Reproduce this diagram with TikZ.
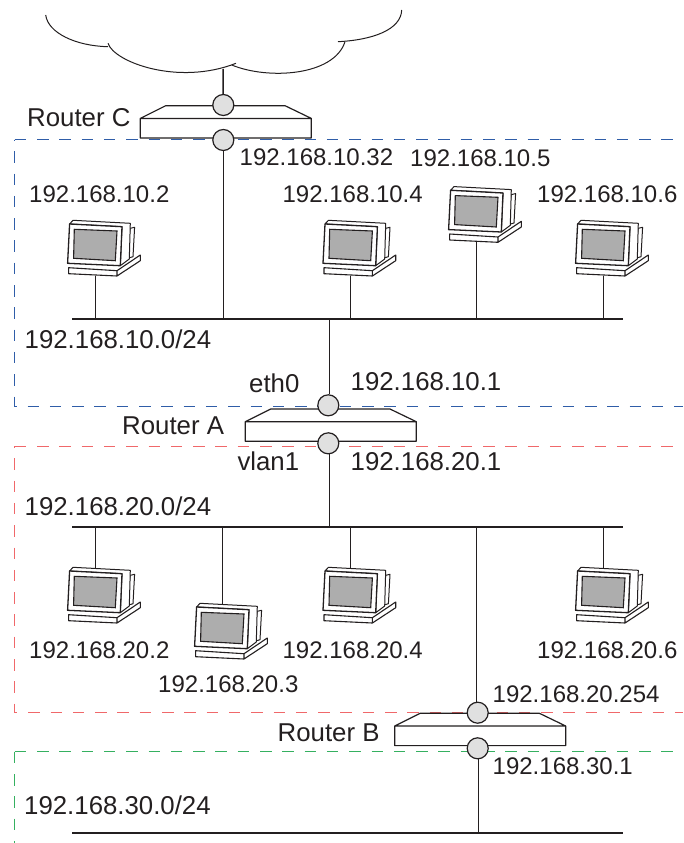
\documentclass[tikz,border=0pt]{standalone}
\usepackage{fontspec}
\setmainfont{Liberation Sans}
\usepackage{tikz}
\usetikzlibrary{positioning}

\definecolor{netblue}{HTML}{2F5DA8}
\definecolor{netred}{HTML}{F0686A}
\definecolor{netgreen}{HTML}{35B060}
\definecolor{inkline}{HTML}{231F20}

\tikzset{
	lan/.style={draw=inkline, line width=1.7pt},
	wire/.style={draw=inkline, line width=1.5pt},
	zone/.style={line width=1pt, dash pattern=on 11.5pt off 10.8pt},
	cloudline/.style={draw=inkline, line width=1pt},
	port/.style={circle, draw=inkline, line width=1.2pt, fill=black!12, minimum size=21pt, inner sep=0pt},
	addr/.style={inner sep=0pt, text height=17pt, text depth=0pt, text=inkline, font=\fontsize{24}{28}\selectfont},
	addrbig/.style={addr, font=\fontsize{25.8}{30}\selectfont},
	pcbox/.pic={
		\coordinate (-foot) at (0,0);
		\coordinate (-head) at (0,-54.5);
		\draw[inkline, line width=1.1pt, fill=white, line join=round]
			(-26.7,-8.3) -- (21.7,-5.3) -- (45,-21) -- (45,-15.3) -- (21.7,0) -- (-26.7,-2.3) -- cycle
			(21.7,-5.3) -- (21.7,0);
		\draw[inkline, line width=1pt, fill=white, line join=round]
			(35,-47.7) -- (39.3,-48.7) -- (37.7,-19.3) -- (30,-17) -- cycle;
		\draw[inkline, line width=1pt, fill=white, line join=round]
			(-25.7,-52) -- (-22.3,-55.7) -- (35,-52.7) -- (34,-17) -- (25,-10.3) -- (26.7,-49.3) -- cycle;
		\draw[inkline, line width=1.3pt, fill=white, line join=round]
			(-25.7,-52) -- (26.7,-49.3) -- (25,-10.3) -- (-27.7,-12.7) -- cycle;
		\draw[inkline, line width=1.1pt, fill=black!32]
			(-21,-46.7) -- (21.7,-45) -- (20,-15.3) -- (-21.7,-17.7) -- cycle;
	},
	routerbox/.pic={
		\draw[inkline, line width=1.2pt, fill=white, line join=round]
			(-57.6,0) -- (61.7,0) -- (88,12.7) -- (88,32.3) -- (-83,32.3) -- (-83,12.7) -- cycle
			(-83,12.7) -- (88,12.7);
	}
}

\begin{document}
\begin{tikzpicture}[x=1pt, y=-1pt]
	\useasboundingbox (0,0) rectangle (683,843);

	% Zone tratteggiate
	\draw[zone, netblue] (14.7,139.7) -- (683,139.7);
	\draw[zone, netblue, dash phase=10.8pt] (14.7,139.7) -- (14.7,406) -- (683,406);
	\draw[zone, netred] (14.7,446) -- (683,446);
	\draw[zone, netred, dash phase=10pt] (14.7,446) -- (14.7,712.4) -- (683,712.4);
	\draw[zone, netgreen] (14.7,751.7) -- (683,751.7);
	\draw[zone, netgreen] (14.7,751.7) -- (14.7,843);

	% Nuvola
	\draw[cloudline] (45.7,15) .. controls (48,33) and (76,46) .. (108,46.7);
	\draw[cloudline] (108,43.3) .. controls (114,62) and (178,86) .. (236,63.3);
	\draw[cloudline] (231.7,65) .. controls (268,80) and (334,76) .. (345,41.7);
	\draw[cloudline] (338,41.7) .. controls (372,40) and (401,30) .. (401.7,10);
	\coordinate (cloudfoot) at (223,69);

	% Segmenti di rete
	\coordinate (lanAl) at (72,319);
	\coordinate (lanAr) at (623,319);
	\coordinate (lanBl) at (72,527);
	\coordinate (lanBr) at (623,527);
	\coordinate (lanCl) at (72,833);
	\coordinate (lanCr) at (623,833);
	\draw[lan] (lanAl) -- (lanAr);
	\draw[lan] (lanBl) -- (lanBr);
	\draw[lan] (lanCl) -- (lanCr);

	% Router
	\pic (routerC) at (223.3,105.7) {routerbox};
	\pic (routerA) at (328.3,409) {routerbox};
	\pic (routerB) at (477.7,713.3) {routerbox};

	% Porte
	\node[port] (portCup) at (223.3,105) {};
	\node[port] (portCdown) at (223.3,140) {};
	\node[port] (portAup) at (328.3,405.3) {};
	\node[port] (portAdown) at (328.3,443.3) {};
	\node[port] (portBup) at (477.7,712.7) {};
	\node[port] (portBdown) at (477.7,748.3) {};

	% Computer
	\pic (pcA) at (95.3,276) {pcbox};
	\pic (pcD) at (350.7,276) {pcbox};
	\pic (pcE) at (476.3,242.3) {pcbox};
	\pic (pcF) at (603.3,276) {pcbox};
	\pic (pcG) at (95.3,623) {pcbox};
	\pic (pcH) at (222.3,659) {pcbox};
	\pic (pcI) at (350.7,623) {pcbox};
	\pic (pcJ) at (603.3,623) {pcbox};

	% Connessioni
	\draw[wire] (cloudfoot) -- (portCup);
	\draw[wire] (portCdown) -- (portCdown |- lanAl);
	\draw[wire] ([xshift=1pt]portAup.north) -- ([xshift=1pt]portAup.north |- lanAl);
	\draw[wire] ([xshift=1pt]portAdown.south) -- ([xshift=1pt]portAdown.south |- lanBl);
	\draw[wire] ([xshift=-1.3pt]portBup.north) -- ([xshift=-1.3pt]portBup.north |- lanBl);
	\draw[wire] ([xshift=1pt]portBdown.south) -- ([xshift=1pt]portBdown.south |- lanCl);
	\foreach \pcname in {pcA,pcD,pcE,pcF}
		\draw[wire] (\pcname-foot) -- (\pcname-foot |- lanAl);
	\foreach \pcname in {pcG,pcH,pcI,pcJ}
		\draw[wire] (\pcname-head) -- (\pcname-head |- lanBl);

	% Etichette dei computer
	\node[addr, above=18.8pt of pcA-head, xshift=4pt] (labelA) {192.168.10.2};
	\node[addr, above=18.8pt of pcD-head, xshift=2pt] (labelD) {192.168.10.4};
	\node[addr, above=20.8pt of pcE-head, xshift=4pt] (labelE) {192.168.10.5};
	\node[addr, above=18.8pt of pcF-head, xshift=4pt] (labelF) {192.168.10.6};
	\node[addr, below=18.7pt of pcG-foot, xshift=4pt] (labelG) {192.168.20.2};
	\node[addr, below=16pt of pcH-foot, xshift=6pt] (labelH) {192.168.20.3};
	\node[addr, below=18.7pt of pcI-foot, xshift=2pt] (labelI) {192.168.20.4};
	\node[addr, below=18.7pt of pcJ-foot, xshift=4pt] (labelJ) {192.168.20.6};

	% Etichette dei router
	\node[addrbig, anchor=base west] (nameC) at (27,126) {Router C};
	\node[addrbig, anchor=base west] (nameA) at (122,434) {Router A};
	\node[addrbig, anchor=base west] (nameB) at (277.5,741) {Router B};
	\node[addr, anchor=base west] (ipC) at (239.5,165) {192.168.10.32};
	\node[addrbig, anchor=base west] (ipAup) at (350.5,390.7) {192.168.10.1};
	\node[addrbig, anchor=base west] (ipAdown) at (350.5,470.7) {192.168.20.1};
	\node[addr, anchor=base west] (ipBup) at (492.5,702.7) {192.168.20.254};
	\node[addr, anchor=base west] (ipBdown) at (492.5,774.3) {192.168.30.1};
	\node[addrbig, anchor=base west] (ethA) at (249,392.7) {eth0};
	\node[addrbig, anchor=base west] (vlanA) at (237.3,470.7) {vlan1};

	% Etichette delle reti
	\node[addrbig, anchor=base west] (netA) at (24.5,348.3) {192.168.10.0/24};
	\node[addrbig, anchor=base west] (netB) at (24.5,515) {192.168.20.0/24};
	\node[addrbig, anchor=base west] (netC) at (24,814.3) {192.168.30.0/24};
\end{tikzpicture}
\end{document}
